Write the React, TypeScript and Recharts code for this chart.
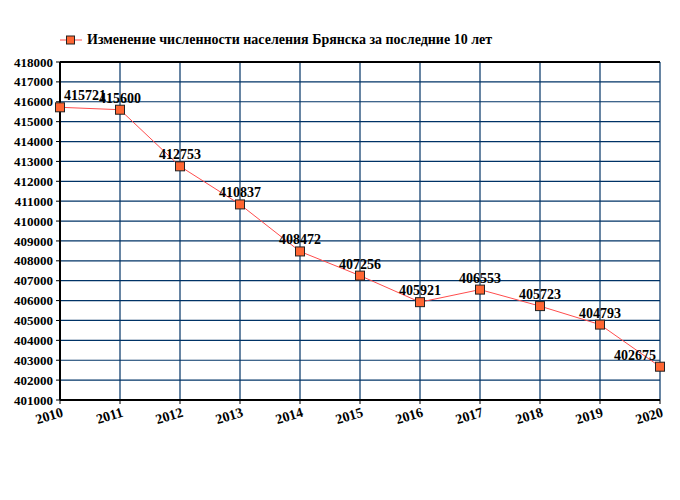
import React from 'react';
import { LineChart, Line, XAxis, YAxis, CartesianGrid, Legend, LabelList, ReferenceLine } from 'recharts';

// Population of Bryansk, 2010-2020
const years = [2010, 2011, 2012, 2013, 2014, 2015, 2016, 2017, 2018, 2019, 2020];
const population = [415721, 415600, 412753, 410837, 408472, 407256, 405921, 406553, 405723, 404793, 402675];
const yTicks = [401000, 402000, 403000, 404000, 405000, 406000, 407000, 408000, 409000, 410000, 411000, 412000, 413000, 414000, 415000, 416000, 417000, 418000];
const seriesName = 'Изменение численности населения Брянска за последние 10 лет';

const data = years.map((year, i) => ({ year, value: population[i] }));

const FONT = '"Liberation Serif", "DejaVu Serif", serif';
const GRID = '#003366';
const LINE = '#ff4d4d';
const MARKER = '#ff6633';

const PLOT_LEFT = 60;
const PLOT_RIGHT = 660;

const SquareDot = (props: any) => {
  const { cx, cy } = props;
  if (cx == null || cy == null) return null;
  return <rect x={cx - 4.5} y={cy - 4.5} width={9} height={9} fill={MARKER} stroke="#222" strokeWidth={1} />;
};

const ValueLabel = (props: any) => {
  const { x, y, value } = props;
  const half = 22;
  const cx = Math.min(Math.max(x, PLOT_LEFT + half + 3), PLOT_RIGHT - half - 3);
  return (
    <text x={cx} y={y - 7} textAnchor="middle" fontFamily={FONT} fontWeight="bold" fontSize={14} fill="#000">
      {value}
    </text>
  );
};

const YearTick = (props: any) => {
  const { x, y, payload } = props;
  return (
    <g transform={`translate(${x},${y + 4})`}>
      <text x={2} y={7} textAnchor="end" transform="rotate(-17)" fontFamily={FONT} fontWeight="bold" fontSize={14} fill="#000">
        {payload.value}
      </text>
    </g>
  );
};

const LegendContent = () => (
  <div style={{ display: 'flex', alignItems: 'center', fontFamily: FONT, fontWeight: 'bold', fontSize: 14, color: '#000' }}>
    <svg width={22} height={12} style={{ marginRight: 5 }}>
      <line x1={0} y1={6} x2={22} y2={6} stroke={LINE} strokeWidth={1} />
      <rect x={6.5} y={2} width={8} height={8} fill={MARKER} stroke="#222" strokeWidth={1} />
    </svg>
    <span>{seriesName}</span>
  </div>
);

export default function App() {
  return (
    <div style={{ position: 'absolute', left: 0, top: 0, width: 680, height: 500, background: '#fff' }}>
      <LineChart width={680} height={500} data={data} margin={{ top: 42, right: 20, bottom: 70, left: 0 }}>
        <CartesianGrid stroke={GRID} strokeWidth={1.2} horizontal vertical />
        <XAxis
          dataKey="year"
          type="number"
          domain={[2010, 2020]}
          ticks={years}
          interval={0}
          height={30}
          tick={<YearTick />}
          tickSize={4}
          axisLine={{ stroke: '#000', strokeWidth: 2 }}
          tickLine={{ stroke: '#000' }}
        />
        <YAxis
          domain={[401000, 418000]}
          ticks={yTicks}
          interval={0}
          width={60}
          tickSize={4}
          tickMargin={3}
          tick={{ fontFamily: FONT, fontWeight: 'bold', fontSize: 13, fill: '#000' }}
          axisLine={{ stroke: '#000', strokeWidth: 2 }}
          tickLine={{ stroke: '#000' }}
        />
        <ReferenceLine y={418000} stroke="#000" strokeWidth={2} />
        <Legend
          verticalAlign="top"
          align="left"
          content={<LegendContent />}
          wrapperStyle={{ position: 'absolute', top: 32, left: 60, width: 'auto', height: 20 }}
        />
        <Line
          type="linear"
          dataKey="value"
          name={seriesName}
          stroke={LINE}
          strokeWidth={1}
          dot={<SquareDot />}
          activeDot={false}
          isAnimationActive={false}
        >
          <LabelList dataKey="value" content={<ValueLabel />} />
        </Line>
      </LineChart>
    </div>
  );
}
